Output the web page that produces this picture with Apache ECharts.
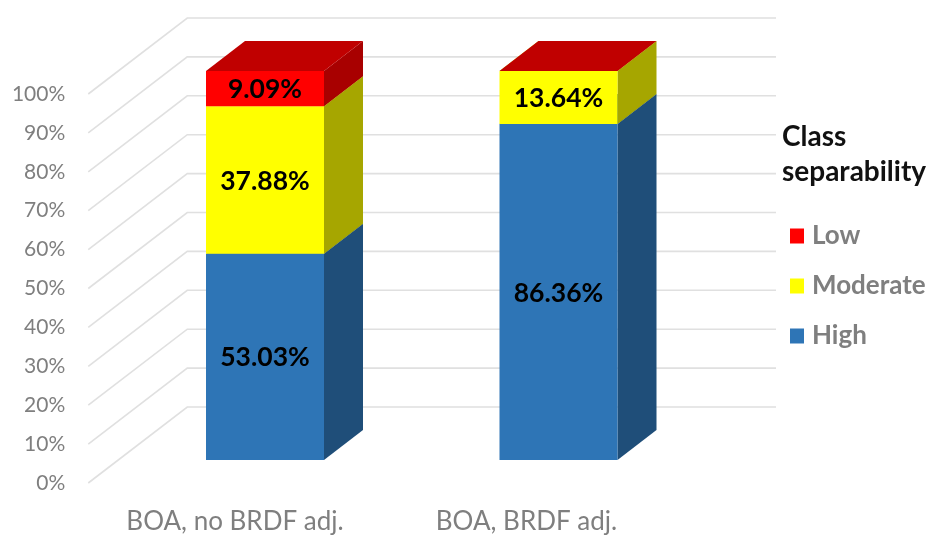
<!DOCTYPE html>
<html>
<head>
<meta charset="utf-8">
<style>html,body{margin:0;padding:0;background:#fff}#chart{width:929px;height:535px}</style>
<script src="https://cdn.jsdelivr.net/npm/echarts@6/dist/echarts.min.js"></script>
</head>
<body>
<div id="chart"></div>
<script>
const categories = ['BOA, no BRDF adj.', 'BOA, BRDF adj.'];
const high = [53.03, 86.36];
const moderate = [37.88, 13.64];
const low = [9.09, 0];
const ticks = [0, 10, 20, 30, 40, 50, 60, 70, 80, 90, 100];

const FONT = 'Lato, "Open Sans", sans-serif';
const barShiftX = [30, 32];
const barShiftY = -23;
const barWidth = 118;
const depthX = 39, depthY = -30;
const wallX = 99, wallY = -76, wallRight = 776;

function stackSeries(name, values, bases, front, side, top) {
  return {
    name, type: 'custom', z: 5,
    itemStyle: { color: front },
    data: values.map((v, i) => [i, bases[i], bases[i] + v, v]),
    encode: { x: 0, y: 2 },
    renderItem(params, api) {
      const i = api.value(0), b = api.value(1), t = api.value(2), v = api.value(3);
      const c0 = api.coord([i, b]), c1 = api.coord([i, t]);
      const xl = c0[0] + barShiftX[i] - barWidth / 2, xr = xl + barWidth;
      const yb = c0[1] + barShiftY, yt = c1[1] + barShiftY;
      const poly = (points, fill) => ({ type: 'polygon', shape: { points }, style: { fill } });
      const children = [
        poly([[xr, yb], [xr + depthX, yb + depthY], [xr + depthX, yt + depthY], [xr, yt]], side),
        poly([[xl, yt], [xr, yt], [xr + depthX, yt + depthY], [xl + depthX, yt + depthY]], top),
        { type: 'rect', shape: { x: xl, y: yt, width: barWidth, height: yb - yt }, style: { fill: front } }
      ];
      if (v > 0) {
        children.push({
          type: 'text',
          style: {
            text: v.toFixed(2) + '%', x: (xl + xr) / 2, y: (yb + yt) / 2 + 1,
            align: 'center', verticalAlign: 'middle',
            font: 'bold 26.5px ' + FONT, fill: '#000'
          }
        });
      }
      return { type: 'group', children };
    }
  };
}

const zeros = categories.map(() => 0);
const afterHigh = high.slice();
const afterModerate = high.map((v, i) => v + moderate[i]);

const option = {
  animation: false,
  backgroundColor: '#fff',
  title: {
    text: 'Class\nseparability', left: 777, top: 114,
    textStyle: { fontFamily: FONT, fontSize: 28, fontWeight: 'bold', color: '#111', lineHeight: 35 }
  },
  legend: {
    data: ['Low', 'Moderate', 'High'],
    orient: 'vertical', left: 785, top: 218, icon: 'rect',
    itemWidth: 14, itemHeight: 15, itemGap: 24,
    textStyle: { fontFamily: FONT, fontSize: 26, fontWeight: 'bold', color: '#7f7f7f', padding: [0, 0, 0, 3] }
  },
  grid: { left: 89.25, width: 583, top: 94, height: 389 },
  xAxis: {
    type: 'category', data: categories,
    axisLine: { show: false }, axisTick: { show: false },
    axisLabel: { fontFamily: FONT, fontSize: 26, color: '#7f7f7f', margin: 26 }
  },
  yAxis: {
    type: 'value', min: 0, max: 100, interval: 10,
    axisLine: { show: false }, axisTick: { show: false }, splitLine: { show: false },
    axisLabel: { fontFamily: FONT, fontSize: 21, color: '#7f7f7f', margin: 24, formatter: '{value}%' }
  },
  series: [
    {
      name: 'walls', type: 'custom', z: 1, silent: true,
      data: ticks.map(t => [0, t]),
      encode: { x: 0, y: 1 },
      renderItem(params, api) {
        const p = api.coord([0, api.value(1)]);
        const x0 = params.coordSys.x - 1, y0 = p[1];
        return {
          type: 'polyline',
          shape: { points: [[x0, y0], [x0 + wallX, y0 + wallY], [wallRight, y0 + wallY]] },
          style: { fill: 'none', stroke: '#e0e0e0', lineWidth: 1.6 }
        };
      }
    },
    stackSeries('High', high, zeros, '#2e75b6', '#1f4e79', '#25588a'),
    stackSeries('Moderate', moderate, afterHigh, '#ffff00', '#a6a600', '#c8c800'),
    stackSeries('Low', low, afterModerate, '#ff0000', '#a80000', '#c00000')
  ]
};
const chart = echarts.init(document.getElementById('chart'), null, { renderer: 'canvas' });
chart.setOption(option);
</script>
</body>
</html>
